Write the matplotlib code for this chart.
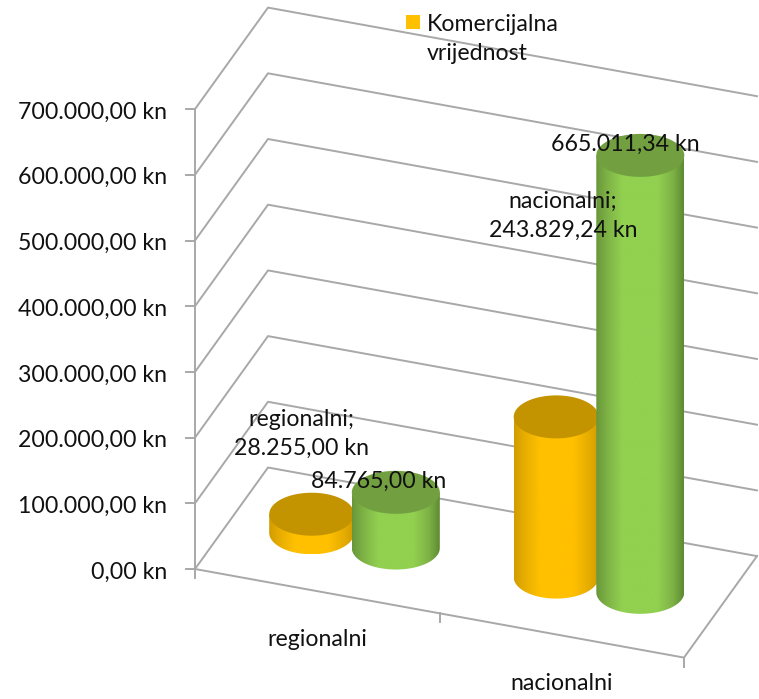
#!/usr/bin/env python3
from matplotlib import pyplot as plt
from matplotlib.colors import to_rgb
from matplotlib.patches import PathPatch, Rectangle
from matplotlib.path import Path
import numpy as np

categories = ['regionalni', 'nacionalni']
legend_label = 'Komercijalna\nvrijednost'
y_ticks = [0, 100000, 200000, 300000, 400000, 500000, 600000, 700000]

# first bar in each group is the "komercijalna" series, second the green one
orange_values = [28255.00, 243829.24]
green_values = [84765.00, 665011.34]

plt.rcParams['font.family'] = ['Lato', 'DejaVu Sans']
FONT = 16.7
GRID = '#a8a8a8'

# oblique projection: pixels on the picture
ORIGIN = np.array([195.0, 569.0])
CAT_VEC = np.array([244.5, 44.3])
DEPTH_VEC = np.array([73.0, -101.5])
PX_PER_VALUE = 65.7 / 100000
N_CAT = len(categories)


def project(cat, depth, value=0):
    p = ORIGIN + CAT_VEC * cat + DEPTH_VEC * depth
    return p[0], p[1] - value * PX_PER_VALUE


def kn(value):
    s = '{:,.2f}'.format(value).replace(',', ' ').replace('.', ',').replace(' ', '.')
    return s + ' kn'


def ellipse_pts(cx, cy, rx, ry, start, end, n=80):
    t = np.linspace(start, end, n)
    return np.column_stack([cx + rx * np.cos(t), cy + ry * np.sin(t)])


def cylinder(ax, cat, value, rx, stops, top_color, zorder):
    ry = 21.5
    cx, y0 = project(cat, 0.5)
    _, y1 = project(cat, 0.5, value)

    # side of the cylinder: straight edges plus the front half of the base
    base = ellipse_pts(cx, y0, rx, ry, 0, np.pi)
    verts = np.vstack([[cx + rx, y1], base, [cx - rx, y1], [cx + rx, y1]])
    codes = [Path.MOVETO] + [Path.LINETO] * (len(verts) - 2) + [Path.CLOSEPOLY]
    body = Path(verts, codes)

    pos = [0, 0.12, 0.3, 0.7, 0.88, 1]
    xs = np.linspace(0, 1, 256)
    rgb = np.array([to_rgb(c) for c in stops])
    grad = np.stack([np.interp(xs, pos, rgb[:, i]) for i in range(3)], axis=-1)[None, :, :]
    im = ax.imshow(grad, extent=(cx - rx, cx + rx, y0 + ry, y1), aspect='auto',
                   zorder=zorder, interpolation='bilinear')
    im.set_clip_path(PathPatch(body, transform=ax.transData))

    top = ellipse_pts(cx, y1, rx, ry, 0, 2 * np.pi)
    ax.fill(top[:, 0], top[:, 1], color=top_color, lw=0, zorder=zorder + 0.1)


fig = plt.figure(figsize=(7.59, 6.99), dpi=100)
ax = fig.add_axes([0, 0, 1, 1])

# walls and floor
for v in y_ticks:
    a, b, c = project(0, 0, v), project(0, 1, v), project(N_CAT, 1, v)
    ax.plot([a[0], b[0], c[0]], [a[1], b[1], c[1]], color=GRID, lw=1.4, zorder=1)
    ax.plot([a[0] - 9, a[0]], [a[1], a[1]], color=GRID, lw=1.4, zorder=1)
    ax.text(167, a[1] + 3, kn(v), ha='right', va='center', fontsize=FONT, color='#111111', zorder=5)

a, b = project(0, 0), project(0, 0, y_ticks[-1])
ax.plot([a[0], b[0]], [a[1], b[1]], color=GRID, lw=1.4, zorder=1)

fl = [project(0, 0), project(N_CAT, 0), project(N_CAT, 1)]
ax.plot([p[0] for p in fl], [p[1] for p in fl], color=GRID, lw=1.4, zorder=1)
for i in range(N_CAT + 1):
    p = project(i, 0)
    ax.plot([p[0], p[0]], [p[1], p[1] + 9], color=GRID, lw=1.4, zorder=1)

# bars, orange first so the green one overlaps it
orange_stops = ['#d29c00', '#e6ad00', '#ffc000', '#ffc000', '#e6ad00', '#d29c00']
green_stops = ['#68963a', '#7db145', '#92d050', '#92d050', '#7db145', '#5e8a33']
offset = 0.172
for i in range(N_CAT):
    z = 2 + i
    cylinder(ax, i + 0.5 - offset, orange_values[i], 42.5, orange_stops, '#c49400', z)
    cylinder(ax, i + 0.5 + offset, green_values[i], 44, green_stops, '#72a040', z + 0.3)

# category labels
for i, name in enumerate(categories):
    x, y = project(i + 0.5, 0)
    ax.text(x, y + 48, name, ha='center', va='center', fontsize=FONT, color='#111111')

# data labels
lab = dict(ha='center', va='center', fontsize=FONT, color='#111111', zorder=6, linespacing=1.47)
ax.text(301, 434, categories[0] + ';\n' + kn(orange_values[0]), **lab)
ax.text(563, 216, categories[1] + ';\n' + kn(orange_values[1]), **lab)
ax.text(379, 481, kn(green_values[0]), **lab)
ax.text(625, 144, kn(green_values[1]), **lab)

# legend
ax.add_patch(Rectangle((406, 15), 14, 14, color='#ffc000', lw=0, zorder=6))
ax.text(427, 39, legend_label, ha='left', va='center', fontsize=FONT, color='#111111',
        zorder=6, linespacing=1.47)

ax.set_xlim(0, 759)
ax.set_ylim(699, 0)
ax.axis('off')
fig.savefig('out.png', dpi=100)
